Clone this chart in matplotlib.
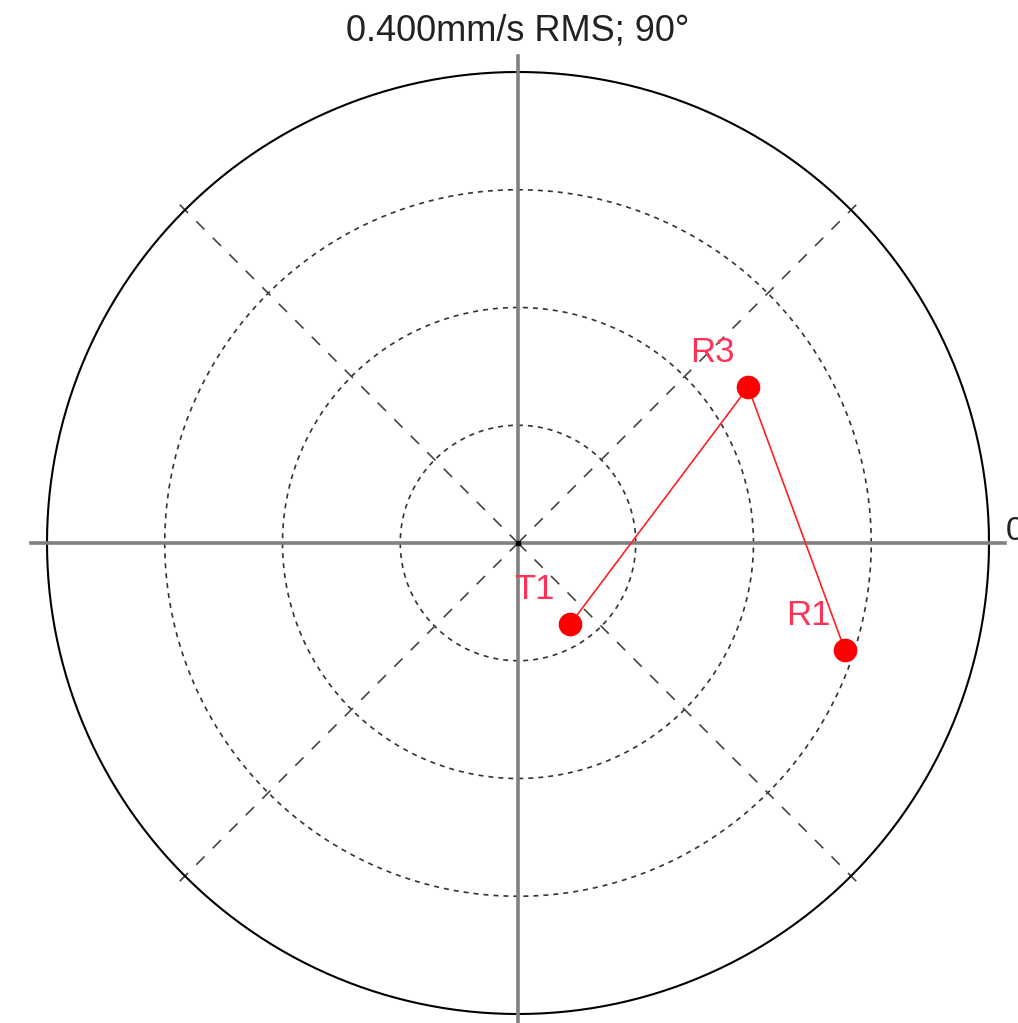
import numpy as np
import matplotlib.pyplot as plt

plt.rcParams['font.family'] = ['Liberation Sans', 'DejaVu Sans']

# vibration vectors (mm/s RMS, degrees)
labels = ['T1', 'R3', 'R1']
amplitude = [0.082, 0.236, 0.292]
phase = [-57.3, 34.1, -18.1]

ring_values = [0.1, 0.2, 0.3]
full_scale = 0.4
title = '0.400mm/s RMS; 90°'

fig = plt.figure(figsize=(10.18, 10.23), dpi=100)
ax = fig.add_axes([0, 0, 1, 1])
scale = 1177.5  # px per unit
ax.set_xlim(-518 / scale, (1018 - 518) / scale)
ax.set_ylim(-(1023 - 543) / scale, 543 / scale)
ax.axis('off')

t = np.linspace(0, 2 * np.pi, 721)

# dashed rings
for r in ring_values:
    ax.plot(r * np.cos(t), r * np.sin(t), color='#333333', lw=1.2,
            linestyle=(0, (3, 3)), zorder=1)

# outer ring
ax.plot(full_scale * np.cos(t), full_scale * np.sin(t), color='black', lw=1.5, zorder=2)

# diagonal dashed spokes
ext = full_scale * 1.04
for a in [45, 135, 225, 315]:
    ar = np.deg2rad(a)
    ax.plot([0, ext * np.cos(ar)], [0, ext * np.sin(ar)], color='#444444',
            lw=1.2, linestyle=(0, (7, 7)), zorder=1)

# main gray axes
ax_ext = full_scale * 1.035
ax.plot([-ax_ext, ax_ext], [0, 0], color='#808080', lw=2.6, zorder=3)
ax.plot([0, 0], [-ax_ext, ax_ext], color='#808080', lw=2.6, zorder=3)
ax.plot([0], [0], marker='s', ms=3, color='black', zorder=4)

# vectors
ph = np.deg2rad(phase)
xs = np.array(amplitude) * np.cos(ph)
ys = np.array(amplitude) * np.sin(ph)
ax.plot(xs, ys, color='#ff2020', lw=1.2, zorder=5)
ax.plot(xs, ys, 'o', color='red', ms=16, zorder=6)
for lab, x, y in zip(labels, xs, ys):
    ax.annotate(lab, (x, y), xytext=(-26, 25), textcoords='offset points',
                ha='center', va='center', color='#ff3355', fontsize=25, zorder=7)

ax.text(0, (543 - 31) / scale, title, ha='center', va='center', fontsize=26, color='#222222')
ax.text((1006 - 518) / scale, 12 / scale, '0', ha='left', va='center', fontsize=24, color='#222222')

fig.savefig('out.png', dpi=100)
